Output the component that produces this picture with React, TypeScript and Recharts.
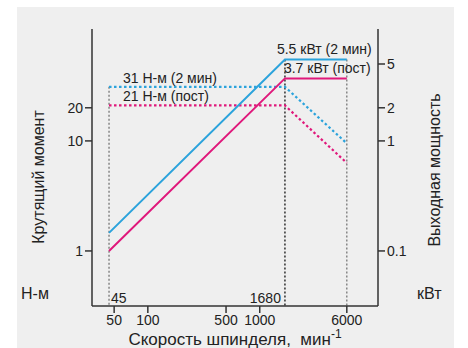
import { ComposedChart, Line, XAxis, YAxis, ReferenceDot } from 'recharts';

const speedTicks = [50, 100, 500, 1000, 6000];
const torqueTicks = [1, 10, 20];
const powerTicks = [0.1, 1, 2, 5];

// power, kW (right axis)
const powerMax = [
  { speed: 45, value: 0.146 },
  { speed: 1680, value: 5.5 },
  { speed: 6000, value: 5.5 },
];
const powerCont = [
  { speed: 45, value: 0.1 },
  { speed: 1680, value: 3.7 },
  { speed: 6000, value: 3.7 },
];

// torque, N-m (left axis)
const torqueMax = [
  { speed: 45, value: 31 },
  { speed: 1680, value: 31 },
  { speed: 6000, value: 9.5 },
];
const torqueCont = [
  { speed: 45, value: 21 },
  { speed: 1680, value: 21 },
  { speed: 6000, value: 6.3 },
];

// vertical guide lines
const guide45 = [
  { speed: 45, value: 31 },
  { speed: 45, value: 0.316 },
];
const guide1680 = [
  { speed: 1680, value: 5.5 },
  { speed: 1680, value: 0.0316 },
];
const guide6000 = [
  { speed: 6000, value: 5.5 },
  { speed: 6000, value: 0.0316 },
];

const BLUE = '#2ba3dc';
const RED = '#e0187b';
const INK = '#222';
const FONT = '"Liberation Sans", Arial, sans-serif';

const note = (text: string, dx: number, dy: number, anchor = 'start') => (props: any) => {
  const { cx, cy } = props.viewBox ?? {};
  const x = props.viewBox?.x ?? cx;
  const y = props.viewBox?.y ?? cy;
  return (
    <text x={x + dx} y={y + dy} fontSize={14} fill={INK} fontFamily={FONT} textAnchor={anchor}>
      {text}
    </text>
  );
};

export default function App() {
  return (
    <div style={{ position: 'absolute', left: 0, top: 0, width: 468, height: 348, background: '#fff', fontFamily: FONT }}>
      <div style={{ position: 'absolute', left: 17, top: 7, width: 437, height: 341, background: '#efefef' }} />
      <div style={{ position: 'absolute', left: 0, top: 0 }}>
        <ComposedChart width={468} height={348} margin={{ top: 29, right: 50, left: 52, bottom: 12 }}>
          <XAxis
            dataKey="speed"
            type="number"
            scale="log"
            domain={[31.7, 11400]}
            allowDataOverflow
            ticks={speedTicks}
            height={30}
            tickSize={7}
            tick={{ fontSize: 14, fill: INK, fontFamily: FONT }}
            axisLine={{ stroke: '#333', strokeWidth: 1.5 }}
            tickLine={{ stroke: '#333', strokeWidth: 1.5 }}
            label={(props: any) => {
              const vb = props.viewBox;
              return (
                <text x={vb.x + vb.width / 2} y={vb.y + 39} textAnchor="middle" fontSize={17} fill={INK} fontFamily={FONT}>
                  {'Скорость шпинделя,\u00a0 мин'}
                  <tspan dy={-7} fontSize={12}>-1</tspan>
                </text>
              );
            }}
          />
          <XAxis
            xAxisId="top"
            orientation="top"
            dataKey="speed"
            type="number"
            scale="log"
            domain={[31.7, 11400]}
            allowDataOverflow
            height={0}
            tick={false}
            tickLine={false}
            axisLine={{ stroke: '#333', strokeWidth: 1.5 }}
          />
          <YAxis
            yAxisId="torque"
            type="number"
            scale="log"
            domain={[0.316, 104]}
            allowDataOverflow
            ticks={torqueTicks}
            width={40}
            tickSize={7}
            tick={{ fontSize: 14, fill: INK, fontFamily: FONT }}
            axisLine={{ stroke: '#333', strokeWidth: 1.5 }}
            tickLine={{ stroke: '#333', strokeWidth: 1.5 }}
            label={(props: any) => {
              const vb = props.viewBox;
              const bx = vb.x - 8;
              const by = vb.y + 148;
              return (
                <g>
                  <text
                    x={bx}
                    y={by}
                    transform={`rotate(-90 ${bx} ${by})`}
                    textAnchor="middle"
                    fontSize={16}
                    fill={INK}
                    fontFamily={FONT}
                  >
                    Крутящий момент
                  </text>
                  <text x={vb.x - 31} y={vb.y + 270} fontSize={16} fill={INK} fontFamily={FONT}>
                    Н-м
                  </text>
                </g>
              );
            }}
          />
          <YAxis
            yAxisId="power"
            orientation="right"
            type="number"
            scale="log"
            domain={[0.0316, 10.4]}
            allowDataOverflow
            ticks={powerTicks}
            width={40}
            tickSize={7}
            tick={{ fontSize: 14, fill: INK, fontFamily: FONT }}
            axisLine={{ stroke: '#333', strokeWidth: 1.5 }}
            tickLine={{ stroke: '#333', strokeWidth: 1.5 }}
            label={(props: any) => {
              const vb = props.viewBox;
              const bx = vb.x + 62;
              const by = vb.y + 141;
              return (
                <g>
                  <text
                    x={bx}
                    y={by}
                    transform={`rotate(-90 ${bx} ${by})`}
                    textAnchor="middle"
                    fontSize={16}
                    fill={INK}
                    fontFamily={FONT}
                  >
                    Выходная мощность
                  </text>
                  <text x={vb.x + 39} y={vb.y + 270} fontSize={16} fill={INK} fontFamily={FONT}>
                    кВт
                  </text>
                </g>
              );
            }}
          />

          <Line data={guide45} dataKey="value" yAxisId="torque" stroke="#777" strokeWidth={1.3} strokeDasharray="2 2" dot={false} isAnimationActive={false} />
          <Line data={guide1680} dataKey="value" yAxisId="power" stroke="#111" strokeWidth={1.3} strokeDasharray="2 2" dot={false} isAnimationActive={false} />
          <Line data={guide6000} dataKey="value" yAxisId="power" stroke="#777" strokeWidth={1.3} strokeDasharray="2 2" dot={false} isAnimationActive={false} />

          <Line data={torqueMax} dataKey="value" yAxisId="torque" stroke={BLUE} strokeWidth={2.2} strokeDasharray="2.5 2.5" dot={false} isAnimationActive={false} />
          <Line data={torqueCont} dataKey="value" yAxisId="torque" stroke={RED} strokeWidth={2.2} strokeDasharray="2.5 2.5" dot={false} isAnimationActive={false} />
          <Line data={powerMax} dataKey="value" yAxisId="power" stroke={BLUE} strokeWidth={2} dot={false} isAnimationActive={false} />
          <Line data={powerCont} dataKey="value" yAxisId="power" stroke={RED} strokeWidth={2} dot={false} isAnimationActive={false} />

          <ReferenceDot x={45} y={31} yAxisId="torque" r={0} stroke="none" fill="none" label={note('31 Н-м (2 мин)', 14, -4)} />
          <ReferenceDot x={45} y={21} yAxisId="torque" r={0} stroke="none" fill="none" label={note('21 Н-м (пост)', 14, -4)} />
          <ReferenceDot x={1680} y={5.5} yAxisId="power" r={0} stroke="none" fill="none" label={note('5.5 кВт (2 мин)', -8, -5)} />
          <ReferenceDot x={1680} y={3.7} yAxisId="power" r={0} stroke="none" fill="none" label={note('3.7 кВт (пост)', -1, -5)} />
          <ReferenceDot x={45} y={0.316} yAxisId="torque" r={0} stroke="none" fill="none" label={note('45', 2, -3)} />
          <ReferenceDot x={1680} y={0.316} yAxisId="torque" r={0} stroke="none" fill="none" label={note('1680', -4, -3, 'end')} />
        </ComposedChart>
      </div>
    </div>
  );
}
